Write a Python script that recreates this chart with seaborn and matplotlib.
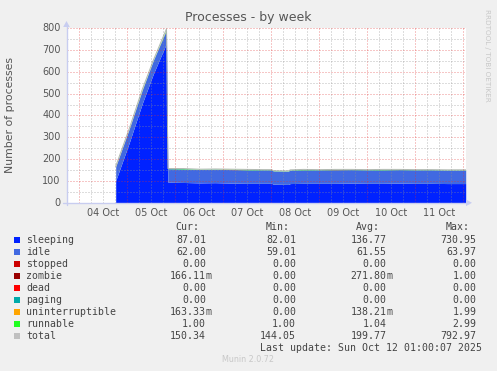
import matplotlib
matplotlib.use("Agg")
import matplotlib.pyplot as plt
import numpy as np
import pandas as pd
import seaborn as sns
from matplotlib.patches import Rectangle

# ---------------- data (hours since 04 Oct 00:00) ----------------
hours = [18.2, 25.0, 31.5, 37.0, 43.6, 44.3, 45.5, 52.0, 60.0, 68.0, 76.0, 84.0,
         92.0, 96.2, 97.0, 104.5, 105.5, 112.0, 120.0, 128.0, 136.0, 144.0,
         152.0, 160.0, 168.0, 176.0, 184.0, 193.2]
sleeping = [100, 275, 455, 590, 731, 93, 93, 92, 90, 91, 89, 88,
            88, 88, 84, 83, 87, 88, 88, 88, 89, 88,
            88, 89, 88, 88, 87, 87]
idle = [64, 63, 62, 62, 62, 62, 62, 62, 62, 62, 62, 62,
        62, 62, 61, 61, 62, 62, 62, 62, 62, 62,
        62, 62, 62, 62, 62, 62]
stopped = [0] * len(hours)
zombie = [1, 1, 0, 0, 0, 0, 0, 0, 0, 0, 1, 0,
          0, 0, 0, 0, 0, 0, 0, 1, 0, 0,
          0, 0, 0, 0, 0, 0.17]
dead = [0] * len(hours)
paging = [0] * len(hours)
uninterruptible = [0, 0, 1, 0, 2, 0, 0, 0, 0, 0, 0, 0,
                   0, 0, 0, 0, 0, 0, 0, 0, 0, 0,
                   0, 0, 0, 0, 0, 0.16]
runnable = [1, 1, 2, 1, 3, 1, 1, 2, 1, 1, 1, 2,
            1, 1, 1, 1, 1, 2, 1, 1, 1, 1,
            2, 1, 1, 1, 1, 1]

series_names = ["sleeping", "idle", "stopped", "zombie", "dead", "paging",
                "uninterruptible", "runnable", "total"]
series_colors = ["#0022ff", "#4169e1", "#cc0000", "#990000", "#ff0000",
                 "#00aaaa", "#ffa500", "#22ff22", "#c0c0c0"]
cur_vals = ["87.01", "62.00", "0.00", "166.11m", "0.00", "0.00", "163.33m", "1.00", "150.34"]
min_vals = ["82.01", "59.01", "0.00", "0.00", "0.00", "0.00", "0.00", "1.00", "144.05"]
avg_vals = ["136.77", "61.55", "0.00", "271.80m", "0.00", "0.00", "138.21m", "1.04", "199.77"]
max_vals = ["730.95", "63.97", "0.00", "1.00", "0.00", "0.00", "1.99", "2.99", "792.97"]

day_labels = ["04 Oct", "05 Oct", "06 Oct", "07 Oct", "08 Oct", "09 Oct", "10 Oct", "11 Oct"]
day_label_hours = [12, 36, 60, 84, 108, 132, 156, 180]
y_ticks = [0, 100, 200, 300, 400, 500, 600, 700, 800]

# ---------------- figure ----------------
W, H = 497, 371
sns.set_theme(style="white")
plt.rcParams['font.family'] = ['DejaVu Sans']
fig = plt.figure(figsize=(W / 100, H / 100), dpi=100, facecolor="#f0f0f0")

def fx(px):
    return px / W

def fy(py):
    return 1 - py / H

left_px, right_px, top_px, bot_px = 66.7, 465.7, 28.3, 202.5
ax = fig.add_axes([fx(left_px), fy(bot_px), fx(right_px - left_px), (bot_px - top_px) / H])
ax.set_facecolor("white")
ax.set_xlim(-6.3, 193.2)
ax.set_ylim(0, 800)

df = pd.DataFrame({
    "hours": hours, "sleeping": sleeping, "idle": idle, "stopped": stopped,
    "zombie": zombie, "dead": dead, "paging": paging,
    "uninterruptible": uninterruptible, "runnable": runnable,
})
stack_cols = series_names[:-1]
df["total"] = df[stack_cols].sum(axis=1)

ax.stackplot(df["hours"], *[df[c] for c in stack_cols],
             colors=series_colors[:-1], linewidth=0, zorder=1)
sns.lineplot(data=df, x="hours", y="total", color="#b0b8b0", linewidth=0.7,
             ax=ax, zorder=2, legend=False)

# grids
ax.set_xticks(np.arange(0, 193, 24), minor=False)
ax.set_xticks(np.arange(-6, 193, 6), minor=True)
ax.set_yticks(y_ticks)
ax.set_yticks(np.arange(0, 801, 50), minor=True)
ax.grid(which="minor", color="#909090", alpha=0.6, linestyle=(0, (1, 2)), linewidth=0.72, zorder=3)
ax.grid(which="major", color="#e03030", alpha=0.55, linestyle=(0, (1, 2)), linewidth=0.72, zorder=3)
ax.set_axisbelow(False)
ax.tick_params(which="both", length=0)
ax.set_xticklabels([])
ax.set_yticklabels([])
ax.set_xlabel("")
ax.set_ylabel("")
for s in ax.spines.values():
    s.set_visible(False)

# axis lines with arrows
axis_col = "#c8cdf0"
fig.add_artist(plt.Line2D([fx(63), fx(469)], [fy(202.8), fy(202.8)], color=axis_col, lw=1.0))
fig.add_artist(plt.Line2D([fx(66.5), fx(66.5)], [fy(205), fy(25)], color=axis_col, lw=1.0))
fig.add_artist(plt.Polygon([[fx(466), fy(199.5)], [fx(472), fy(202.8)], [fx(466), fy(206.1)]],
                           closed=True, color=axis_col, lw=0))
fig.add_artist(plt.Polygon([[fx(63.2), fy(27)], [fx(66.5), fy(21)], [fx(69.8), fy(27)]],
                           closed=True, color=axis_col, lw=0))

txt_col = "#555555"
# tick labels
for lab, h in zip(day_labels, day_label_hours):
    ax.text(h, -10.5 * 800 / (bot_px - top_px), lab, ha="center", va="center",
            fontsize=7, color=txt_col, clip_on=False)
for v in y_ticks:
    fig.text(fx(60.5), fy(bot_px - v * (bot_px - top_px) / 800), str(v),
             ha="right", va="center", fontsize=7, color=txt_col)

fig.text(fx(248), fy(18), "Processes - by week", ha="center", va="center",
         fontsize=9, color=txt_col)
fig.text(fx(10.5), fy(115), "Number of processes", ha="center", va="center",
         rotation=90, fontsize=7.8, color=txt_col)
fig.text(fx(487.5), fy(55), "RRDTOOL / TOBI OETIKER", ha="center", va="center",
         rotation=-90, fontsize=5.2, color="#c8c8c8")

# legend
mono = "DejaVu Sans Mono"
leg_col = "#444444"
fs = 7.15
headers = [("Cur:", 199.0), ("Min:", 290.0), ("Avg:", 380.3), ("Max:", 470.0)]
for htxt, xr in headers:
    fig.text(fx(xr), fy(227.3), htxt, ha="right", va="center", fontsize=fs,
             family=mono, color=leg_col)
col_ends = [206.0, 296.0, 386.7, 476.7]
for i, name in enumerate(series_names):
    yy = 239.7 + 12 * i
    fig.add_artist(Rectangle((fx(14), fy(yy + 3)), fx(6), 6 / H,
                             facecolor=series_colors[i], edgecolor="none"))
    fig.text(fx(26.3), fy(yy), name, ha="left", va="center", fontsize=fs,
             family=mono, color=leg_col)
    for vals, xe in zip([cur_vals, min_vals, avg_vals, max_vals], col_ends):
        s = vals[i]
        suffix = ""
        if s.endswith("m"):
            s, suffix = s[:-1], "m"
        fig.text(fx(xe), fy(yy), s, ha="right", va="center", fontsize=fs,
                 family=mono, color=leg_col)
        if suffix:
            fig.text(fx(xe), fy(yy), suffix, ha="left", va="center", fontsize=fs,
                     family=mono, color=leg_col)

fig.text(fx(482.3), fy(347.7), "Last update: Sun Oct 12 01:00:07 2025", ha="right",
         va="center", fontsize=fs, family=mono, color=leg_col)
fig.text(fx(248), fy(360), "Munin 2.0.72", ha="center", va="center", fontsize=5.8,
         color="#c8c8c8")

fig.savefig("out.png", dpi=100, facecolor=fig.get_facecolor())
